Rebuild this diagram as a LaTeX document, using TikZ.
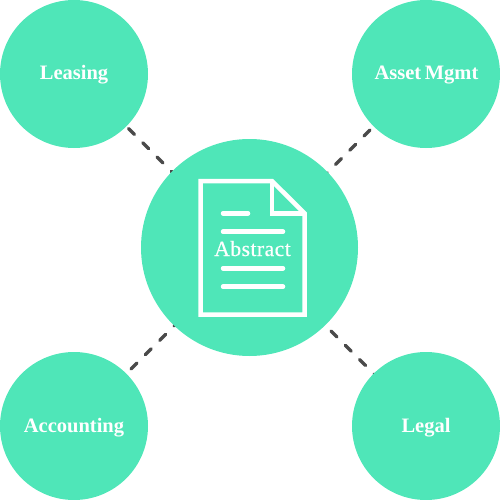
\documentclass[tikz,border=0pt]{standalone}
\usepackage{fontspec}
\setmainfont{Liberation Serif}
\pgfdeclarelayer{behind}
\pgfsetlayers{behind,main}
\definecolor{mint}{HTML}{4FE6B8}
\definecolor{dashgrey}{HTML}{4A4A4A}
\tikzset{
  x=1pt,y=-1pt,
  corner/.style={circle,fill=mint,draw=none,inner sep=0pt,minimum size=148pt,text=white},
  cornertext/.style={text=white,inner sep=0pt,anchor=base,font=\fontsize{20.5}{24}\selectfont\bfseries},
  hubcircle/.style={circle,fill=mint,draw=none,inner sep=0pt,minimum size=217pt},
  link/.style={draw=dashgrey,line width=3.2pt,line cap=round},
  icon/.style={draw=white,line width=4.5pt,miter limit=10},
  iconline/.style={draw=white,line width=4.5pt,line cap=round},
  hubtext/.style={text=white,inner sep=0pt,anchor=base,font=\fontsize{21.7}{26}\selectfont\addfontfeatures{LetterSpace=2,FakeBold=0.4}}
}
\begin{document}
\begin{tikzpicture}
\useasboundingbox (0,0) rectangle (500,500);
\node[hubcircle] (hub) at (249.5,247.5) {};
\node[corner] (leasing) at (74,74) {};
\node[corner] (asset) at (426,74) {};
\node[corner] (accounting) at (74,426) {};
\node[corner] (legal) at (426,426) {};
\node[cornertext] (leasinglabel) at (74,79.5) {Leasing};
\node[cornertext] (assetlabel) at (426.5,79.5) {Asset\hspace{-1.5pt} Mgmt};
\node[cornertext] (accountinglabel) at (74,432) {Accounting};
\node[cornertext] (legallabel) at (426,432) {Legal};
\coordinate (meet) at (250,250);
\begin{pgfonlayer}{behind}
\draw[link,dash pattern=on 8.5pt off 11.7pt,dash phase=3.8pt] (leasing.center) -- (meet);
\draw[link,dash pattern=on 8.5pt off 11.7pt,dash phase=1.6pt] (asset.center) -- (meet);
\draw[link,dash pattern=on 8.5pt off 11.7pt,dash phase=0.1pt] (accounting.center) -- (meet);
\draw[link,dash pattern=on 8.5pt off 11.7pt,dash phase=15.6pt] (legal.center) -- (meet);
\end{pgfonlayer}
\draw[icon] (200.7,181) -- (272,181) -- (304.5,213.3) -- (304.5,314.5) -- (200.7,314.5) -- cycle;
\draw[icon] (272,181) -- (272,213.3) -- (304.5,213.3);
\draw[iconline] (223,213.3) -- (248,213.3);
\draw[iconline] (223,231.7) -- (283,231.7);
\draw[iconline] (223,268.3) -- (283,268.3);
\draw[iconline] (223,286.7) -- (283,286.7);
\node[hubtext] (abstract) at (252.5,256) {Abstract};
\end{tikzpicture}
\end{document}
